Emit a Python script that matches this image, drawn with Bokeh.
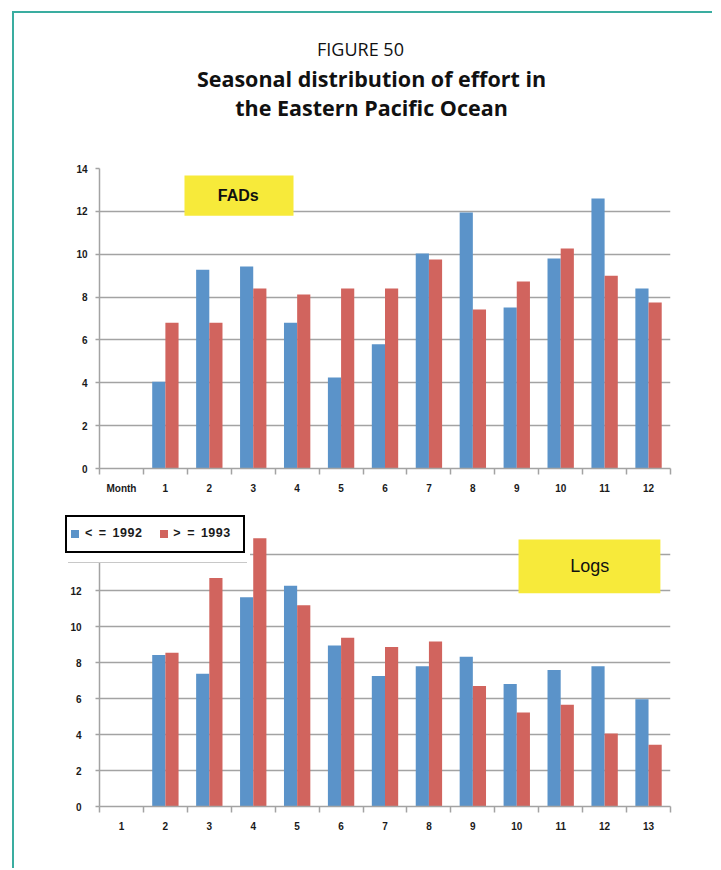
import html
import numpy as np
from bokeh.plotting import figure
from bokeh.models import (ColumnDataSource, FixedTicker, BoxAnnotation, Label,
                          GridBox, Div)
from bokeh.transform import dodge
from bokeh.embed import file_html
from bokeh.resources import INLINE

# ---------------- data ----------------
fads_months = ["Month", "1", "2", "3", "4", "5", "6", "7", "8", "9", "10", "11", "12"]
fads_le_1992 = [None, 4.05, 9.28, 9.43, 6.8, 4.25, 5.8, 10.03, 11.95, 7.51, 9.8, 12.6, 8.4]
fads_ge_1993 = [None, 6.8, 6.8, 8.4, 8.12, 8.4, 8.4, 9.75, 7.42, 8.73, 10.27, 9.0, 7.75]

logs_months = ["1", "2", "3", "4", "5", "6", "7", "8", "9", "10", "11", "12", "13"]
logs_le_1992 = [None, 8.42, 7.38, 11.63, 12.27, 8.95, 7.25, 7.79, 8.32, 6.81, 7.59, 7.79, 5.96]
logs_ge_1993 = [None, 8.54, 12.7, 14.9, 11.18, 9.37, 8.86, 9.17, 6.7, 5.22, 5.65, 4.06, 3.43]

fads_yticks = [0, 2, 4, 6, 8, 10, 12, 14]
logs_yticks = [0, 2, 4, 6, 8, 10, 12, 14, 16]
series_labels = ["< = 1992", "> = 1993"]
title_lines = ["FIGURE 50", "Seasonal distribution of effort in", "the Eastern Pacific Ocean"]

BLUE = "#5b93c9"
RED = "#d1645e"
TEAL = "#3aada0"
GRID = "#a3a3a3"
YELLOW = "#f7ea3a"
TICK_FONT = "Liberation Sans"
TITLE_FONT = "Open Sans"

W = 698          # width of every block
BL, BR = 85, 42  # common frame borders (frames are aligned by the grid)


def make_chart(months, s1, s2, yticks, height, bt, bb, standoff, ystandoff):
    n = len(months)
    idx = list(range(n))
    src = ColumnDataSource(dict(
        x=idx,
        a=np.array(s1, dtype=float),
        b=np.array(s2, dtype=float),
    ))
    p = figure(width=W, height=height,
               x_range=(-0.5, n - 0.5), y_range=(yticks[0], yticks[-1]),
               output_backend="svg", toolbar_location=None,
               min_border_left=BL, min_border_right=BR,
               min_border_top=bt, min_border_bottom=bb)
    p.vbar(x=dodge("x", -0.15, range=p.x_range), top="a", width=0.3,
           source=src, fill_color=BLUE, line_color=None)
    p.vbar(x=dodge("x", 0.15, range=p.x_range), top="b", width=0.3,
           source=src, fill_color=RED, line_color=None)

    p.xaxis.ticker = FixedTicker(ticks=idx, minor_ticks=[i - 0.5 for i in range(n + 1)])
    p.xaxis.major_label_overrides = {i: m for i, m in enumerate(months)}
    p.xaxis.major_tick_out = 0
    p.xaxis.major_tick_in = 0
    p.xaxis.minor_tick_out = 6
    p.xaxis.minor_tick_in = 0
    p.xaxis.minor_tick_line_color = GRID
    p.xaxis.minor_tick_line_width = 1.5
    p.xaxis.axis_line_color = GRID
    p.xaxis.axis_line_width = 1.5
    p.xaxis.major_label_standoff = standoff

    p.yaxis.ticker = FixedTicker(ticks=yticks, minor_ticks=[])
    p.yaxis.major_tick_out = 4
    p.yaxis.major_tick_in = 0
    p.yaxis.major_tick_line_color = GRID
    p.yaxis.major_tick_line_width = 1.5
    p.yaxis.axis_line_color = GRID
    p.yaxis.axis_line_width = 1.5
    p.yaxis.major_label_standoff = ystandoff

    for ax in (p.xaxis, p.yaxis):
        ax.major_label_text_font = TICK_FONT
        ax.major_label_text_font_size = "10px"
        ax.major_label_text_font_style = "bold"
        ax.major_label_text_color = "#1a1a1a"

    p.xgrid.visible = False
    p.ygrid.ticker = FixedTicker(ticks=yticks)
    p.ygrid.grid_line_color = GRID
    p.ygrid.grid_line_width = 1.5
    p.outline_line_color = None
    p.background_fill_color = "white"
    p.border_fill_color = "white"
    return p


# ---------------- title block ----------------
pt = figure(width=W, height=145, x_range=(BL, W - BR), y_range=(0, 145),
            output_backend="svg", toolbar_location=None,
            min_border_left=BL, min_border_right=BR,
            min_border_top=0, min_border_bottom=0,
            outline_line_color=None, x_axis_location=None, y_axis_location=None)
pt.grid.visible = False
pt.add_layout(Label(x=346, y=110, text=title_lines[0], text_align="center",
                    text_baseline="middle", text_font=TITLE_FONT,
                    text_font_size="18px", text_color="#111111"))
pt.add_layout(Label(x=357, y=80, text=title_lines[1], text_align="center",
                    text_baseline="middle", text_font=TITLE_FONT,
                    text_font_size="21.5px", text_font_style="bold",
                    text_color="#111111"))
pt.add_layout(Label(x=357, y=51, text=title_lines[2], text_align="center",
                    text_baseline="middle", text_font=TITLE_FONT,
                    text_font_size="21.5px", text_font_style="bold",
                    text_color="#111111"))

# ---------------- top chart (FADs) ----------------
p1 = make_chart(fads_months, fads_le_1992, fads_ge_1993, fads_yticks,
                344, 10, 34, 8, 8)
p1.add_layout(BoxAnnotation(left=1.435, right=3.917, bottom=11.8, top=13.67,
                            fill_color=YELLOW, fill_alpha=1, line_color=None))
p1.add_layout(Label(x=2.66, y=12.73, text="FADs", text_align="center",
                    text_baseline="middle", text_font=TICK_FONT,
                    text_font_size="16px", text_font_style="bold",
                    text_color="#111111"))

# ---------------- bottom chart (Logs) ----------------
p2 = make_chart(logs_months, logs_le_1992, logs_ge_1993, logs_yticks,
                366, 16, 62, 9, 14)
p2.add_layout(BoxAnnotation(left=9.04, right=12.27, bottom=11.85, top=14.84,
                            fill_color=YELLOW, fill_alpha=1, line_color=None))
p2.add_layout(Label(x=10.66, y=13.35, text="Logs", text_align="center",
                    text_baseline="middle", text_font=TICK_FONT,
                    text_font_size="18px", text_color="#111111"))

# ---------------- legend patch laid over the bottom chart ----------------
def swatch(color, ml, mr):
    return (f'<span style="display:inline-block;width:8px;height:8px;'
            f'background:{color};margin:0 {mr}px 0 {ml}px"></span>')

legend_html = (
    '<div style="margin:10px 0 0 51px;width:180px;height:38px;box-sizing:border-box;'
    'border:2px solid #000;background:#fff;display:flex;align-items:center;'
    'padding-left:4px;font-family:\'Liberation Sans\',Arial,sans-serif;'
    'font-weight:bold;font-size:12.5px;letter-spacing:0.5px;word-spacing:2px;'
    'color:#1a1a1a;white-space:nowrap;">'
    + swatch(BLUE, 0, 6) + f'<span>{html.escape(series_labels[0])}</span>'
    + swatch(RED, 18, 5) + f'<span>{html.escape(series_labels[1])}</span>'
    + '</div>'
    '<div style="margin:9px 0 0 54px;width:179px;height:1px;background:#c8c8c8"></div>'
)
pleg = Div(text=legend_html, width=236, height=58, margin=(3, 0, 0, 0),
           styles={"background-color": "white"})

layout = GridBox(children=[(pt, 0, 0), (p1, 1, 0), (p2, 2, 0), (pleg, 2, 0)],
                 margin=(11, 0, 0, 12),
                 styles={"border-left": f"2px solid {TEAL}",
                         "border-top": f"2px solid {TEAL}"})

open("out.html", "w").write(file_html(layout, INLINE))
